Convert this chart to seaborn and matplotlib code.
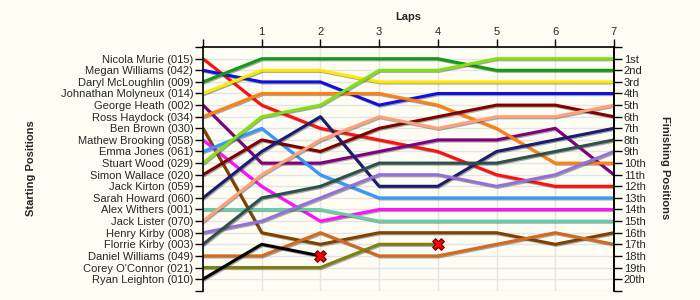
import pandas as pd
import numpy as np
import seaborn as sns
import matplotlib.pyplot as plt
import matplotlib.patheffects as pe

# Starting grid (top to bottom) and lap-by-lap positions (lap 0..7)
drivers = [
    "Nicola Murie (015)", "Megan Williams (042)", "Daryl McLoughlin (009)",
    "Johnathan Molyneux (014)", "George Heath (002)", "Ross Haydock (034)",
    "Ben Brown (030)", "Mathew Brooking (058)", "Emma Jones (061)",
    "Stuart Wood (029)", "Simon Wallace (020)", "Jack Kirton (059)",
    "Sarah Howard (060)", "Alex Withers (001)", "Jack Lister (070)",
    "Henry Kirby (008)", "Florrie Kirby (003)", "Daniel Williams (049)",
    "Corey O'Connor (021)", "Ryan Leighton (010)",
]
laps = [0, 1, 2, 3, 4, 5, 6, 7]
nan = np.nan
positions = {
    "Nicola Murie (015)":       [1, 5, 7, 8, 9, 11, 12, 12],
    "Megan Williams (042)":     [2, 3, 3, 5, 4, 4, 4, 4],
    "Daryl McLoughlin (009)":   [3, 1, 1, 1, 1, 2, 2, 2],
    "Johnathan Molyneux (014)": [4, 2, 2, 3, 3, 3, 3, 3],
    "George Heath (002)":       [5, 10, 10, 9, 8, 8, 7, 11],
    "Ross Haydock (034)":       [6, 4, 4, 4, 5, 7, 10, 10],
    "Ben Brown (030)":          [7, 16, 17, 16, 16, 16, 17, 16],
    "Mathew Brooking (058)":    [8, 12, 15, 14, 14, 14, 14, 14],
    "Emma Jones (061)":         [9, 7, 11, 13, 13, 13, 13, 13],
    "Stuart Wood (029)":        [10, 6, 5, 2, 2, 1, 1, 1],
    "Simon Wallace (020)":      [11, 8, 9, 7, 6, 5, 5, 6],
    "Sarah Howard (060)":       [13, 9, 6, 12, 12, 9, 8, 7],
    "Alex Withers (001)":       [14, 14, 14, 15, 15, 15, 15, 15],
    "Jack Lister (070)":        [15, 11, 8, 6, 7, 6, 6, 5],
    "Henry Kirby (008)":        [16, 15, 13, 11, 11, 12, 11, 9],
    "Florrie Kirby (003)":      [17, 13, 12, 10, 10, 10, 9, 8],
    "Daniel Williams (049)":    [18, 18, 16, 18, 18, 17, 16, 17],
    "Corey O'Connor (021)":     [19, 19, 19, 17, 17, nan, nan, nan],
    "Ryan Leighton (010)":      [20, 17, 18, nan, nan, nan, nan, nan],
}
colors = {
    "Nicola Murie (015)": "#FF1010", "Megan Williams (042)": "#1010E0",
    "Daryl McLoughlin (009)": "#129A12", "Johnathan Molyneux (014)": "#FFE800",
    "George Heath (002)": "#800080", "Ross Haydock (034)": "#FF8010",
    "Ben Brown (030)": "#804000", "Mathew Brooking (058)": "#FF10FF",
    "Emma Jones (061)": "#3399FF", "Stuart Wood (029)": "#80E010",
    "Simon Wallace (020)": "#800000", "Sarah Howard (060)": "#1C1C70",
    "Alex Withers (001)": "#66CDAA", "Jack Lister (070)": "#FFA07A",
    "Henry Kirby (008)": "#9370DB", "Florrie Kirby (003)": "#2F4F4F",
    "Daniel Williams (049)": "#D2691E", "Corey O'Connor (021)": "#808010",
    "Ryan Leighton (010)": "#000000",
}
finish_labels = ["1st", "2nd", "3rd"] + [f"{i}th" for i in range(4, 21)]
retired = ["Corey O'Connor (021)", "Ryan Leighton (010)"]

rows = []
for name, pos in positions.items():
    for lap, p in zip(laps, pos):
        if not np.isnan(p):
            rows.append({"driver": name, "lap": lap, "position": p})
df = pd.DataFrame(rows)

bg = "#FDFDF3"
sns.set_style("white")
plt.rcParams["font.family"] = ["Liberation Sans", "DejaVu Sans"]

fig = plt.figure(figsize=(7, 3), dpi=100, facecolor=bg)
ax = fig.add_axes([0.29, 0.031, 0.587, 0.812])
ax.set_facecolor(bg)

sns.lineplot(data=df, x="lap", y="position", hue="driver", palette=colors,
             hue_order=list(positions.keys()), linewidth=2.2, legend=False,
             sort=False, ax=ax)
for line in ax.lines:
    line.set_path_effects([pe.SimpleLineShadow(offset=(0.8, -0.8), shadow_color="#404040", alpha=0.45),
                           pe.Normal()])

# retirement markers
for name in retired:
    last = df[df["driver"] == name].iloc[-1]
    ax.scatter(last["lap"], last["position"], marker="X", s=70, color="#FF0000",
               edgecolor="#600000", linewidth=0.8, zorder=5)

ax.set_xlim(0, 7)
ax.set_ylim(21, 0)
ax.set_xticks(laps)
ax.set_xticklabels([""] + [str(l) for l in laps[1:]], fontsize=8)
ax.xaxis.tick_top()
ax.set_yticks(range(0, 22))
ax.set_yticklabels([""] + drivers + [""], fontsize=8)
ax.grid(True, color="#E4E4E4", linewidth=1)
ax.set_axisbelow(True)
ax.tick_params(axis="both", direction="out", length=6, width=1, color="black", pad=1)
ax.set_xlabel("")
ax.set_ylabel("")
for s in ["left", "top", "right"]:
    ax.spines[s].set_color("black")
    ax.spines[s].set_linewidth(1.2)
ax.spines["bottom"].set_visible(False)

ax2 = ax.twinx()
ax2.set_ylim(21, 0)
ax2.set_yticks(range(0, 22))
ax2.set_yticklabels([""] + finish_labels + [""], fontsize=8)
ax2.tick_params(axis="y", direction="out", length=6, width=1, color="black", pad=1)
for s in ["left", "top", "bottom"]:
    ax2.spines[s].set_visible(False)
ax2.spines["right"].set_color("black")
ax2.spines["right"].set_linewidth(1.2)

fig.text(0.583, 0.943, "Laps", ha="center", va="center", fontsize=8, fontweight="bold")
fig.text(0.045, 0.44, "Starting Positions", ha="center", va="center", rotation=90,
         fontsize=8, fontweight="bold")
fig.text(0.95, 0.44, "Finishing Positions", ha="center", va="center", rotation=-90,
         fontsize=8, fontweight="bold")

fig.savefig("out.png", dpi=100, facecolor=bg)
